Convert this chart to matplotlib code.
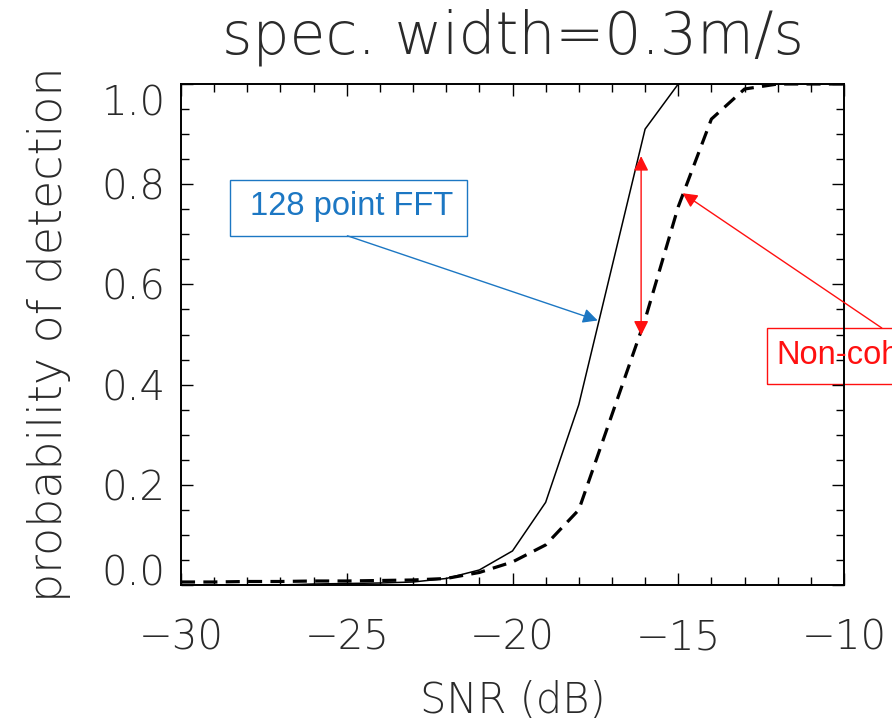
import numpy as np
import matplotlib.pyplot as plt
from matplotlib.patches import Rectangle
from matplotlib.ticker import MultipleLocator

# Detection probability vs SNR, spectral width 0.3 m/s
snr = [-30, -29, -28, -27, -26, -25, -24, -23, -22, -21, -20,
       -19, -18, -17, -16, -15, -14, -13, -12, -11, -10]
pd_fft = [0.0, 0.0, 0.0, 0.0, 0.002, 0.003, 0.004, 0.006, 0.013, 0.03, 0.068,
          0.165, 0.36, 0.635, 0.91, 1.0, 1.0, 1.0, 1.0, 1.0, 1.0]
pd_noncoh = [0.006, 0.006, 0.007, 0.007, 0.008, 0.008, 0.009, 0.01, 0.013, 0.025, 0.046,
             0.08, 0.15, 0.34, 0.53, 0.755, 0.93, 0.99, 1.0, 1.0, 1.0]

plt.rcParams['font.family'] = ['DejaVu Sans']
plt.rcParams['font.weight'] = 'light'
plt.rcParams['axes.titleweight'] = 'light'
plt.rcParams['axes.labelweight'] = 'light'

fig = plt.figure(figsize=(8.92, 7.28), dpi=100)
ax = fig.add_axes([181 / 892, 1 - 585 / 728, 663 / 892, 501 / 728])

ax.plot(snr, pd_fft, color='black', lw=1.1)
ax.plot(snr, pd_noncoh, color='black', lw=2.3, dashes=(4.4, 2.6))

ax.set_xlim(-30, -10)
ax.set_ylim(0, 1)
ax.xaxis.set_minor_locator(MultipleLocator(1))
ax.yaxis.set_minor_locator(MultipleLocator(0.05))
ax.set_xticks([-30, -25, -20, -15, -10])
ax.set_xticklabels(['\u221230', '\u221225', '\u221220', '\u221215', '\u221210'])
ax.set_yticks([0, 0.2, 0.4, 0.6, 0.8, 1.0])
ax.set_yticklabels(['0.0', '0.2', '0.4', '0.6', '0.8', '1.0'])

for s in ax.spines.values():
    s.set_linewidth(1.4)
ax.tick_params(which='both', direction='in', top=True, right=True,
               width=1.0, colors='black', labelcolor='#2a2a2a')
ax.tick_params(which='major', length=8.5)
ax.tick_params(which='minor', length=5.5)
ax.tick_params(axis='x', which='major', pad=24, labelsize=29)
ax.tick_params(axis='y', which='major', pad=11, labelsize=29)

# keep the end labels inside the frame
ylabels = ax.get_yticklabels()
ylabels[0].set_va('baseline')
ylabels[-1].set_va('top')

ax.set_xlabel('SNR (dB)', fontsize=30, color='#2a2a2a', labelpad=16)
ax.set_ylabel('probability of detection', fontsize=33, color='#2a2a2a', labelpad=22)
ax.set_title('spec. width=0.3m/s', fontsize=42, color='#2a2a2a', pad=22)

blue = '#1c77c3'
red = '#ff1010'

# 128 point FFT label and arrow
ax.add_patch(Rectangle((-28.53, 0.697), 7.15, 0.112, fill=False,
                       edgecolor=blue, lw=1.0, clip_on=False))
ax.text(-24.86, 0.755, '128 point FFT', color=blue, fontsize=23.5,
        family='Liberation Sans', weight='normal', ha='center', va='center')
ax.annotate('', xy=(-17.43, 0.528), xytext=(-24.98, 0.697),
            arrowprops=dict(arrowstyle='-|>', color=blue, lw=1.0,
                            mutation_scale=22, shrinkA=0, shrinkB=0))

# gap between the two curves
ax.annotate('', xy=(-16.12, 0.856), xytext=(-16.12, 0.498),
            arrowprops=dict(arrowstyle='<|-|>', color=red, lw=1.0,
                            mutation_scale=22, shrinkA=0, shrinkB=0))

# non-coherent label and arrow
ax.add_patch(Rectangle((-12.32, 0.401), 10.0, 0.112, fill=False,
                       edgecolor=red, lw=1.0, clip_on=False))
ax.text(-12.05, 0.459, 'Non-coherent', color=red, fontsize=23.5,
        family='Liberation Sans', weight='normal', ha='left', va='center',
        clip_on=False)
ax.annotate('', xy=(-14.87, 0.782), xytext=(-8.86, 0.513),
            arrowprops=dict(arrowstyle='-|>', color=red, lw=1.0,
                            mutation_scale=22, shrinkA=0, shrinkB=0),
            annotation_clip=False)

fig.savefig('out.png', dpi=100)
